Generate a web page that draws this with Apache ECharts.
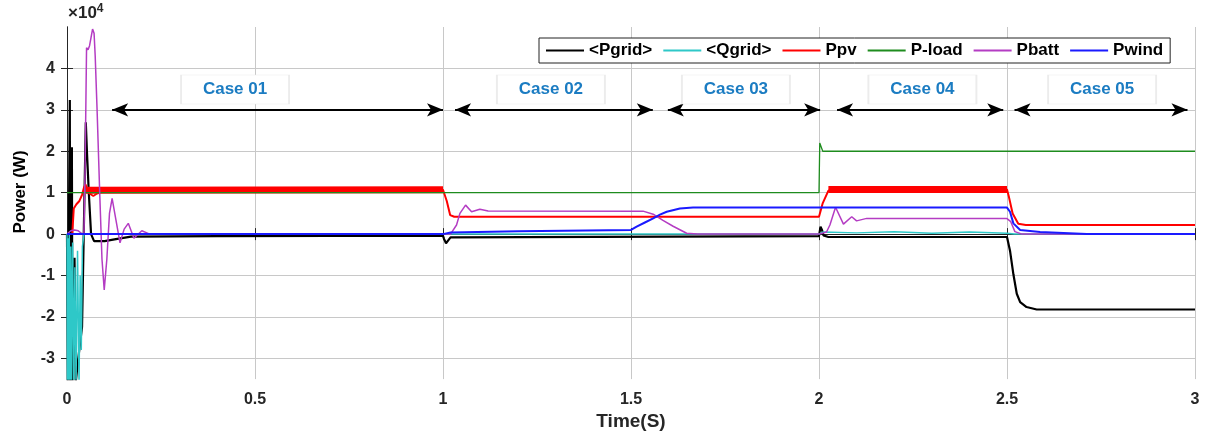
<!DOCTYPE html>
<html>
<head>
<meta charset="utf-8">
<script src="https://cdn.jsdelivr.net/npm/echarts@6/dist/echarts.min.js"></script>
<style>
html,body{margin:0;padding:0;background:#fff;}
#chart{width:1208px;height:436px;}
</style>
</head>
<body>
<div id="chart"></div>
<script>
// ---- data (time in s, power in W) ----
const seriesNames = ['<Pgrid>', '<Qgrid>', 'Ppv', 'P-load', 'Pbatt', 'Pwind'];
const yTickValues = [-30000, -20000, -10000, 0, 10000, 20000, 30000, 40000];

const pgridT = [0, 0.002, 0.0075, 0.0085, 0.013, 0.0145, 0.02, 0.023, 0.03, 0.04, 0.05, 0.053, 0.058, 0.064, 0.072, 0.1, 0.13, 0.17, 0.4, 1.0, 1.003, 1.008, 1.014, 1.02, 2.0, 2.004, 2.008, 2.012, 2.025, 2.5, 2.508, 2.517, 2.526, 2.535, 2.552, 2.579, 3.0];
const pgridV = [0, -36000, 32400, -36000, 21000, -36000, -5700, -36000, -30000, -22400, 27000, 20000, 10000, 0, -1700, -1700, -1200, -600, -500, -400, -1200, -2200, -1500, -800, -500, 1800, 1000, -300, -700, -700, -4000, -9700, -14400, -16400, -17600, -18200, -18200];

const qgridT = [0, 0.001, 0.002, 0.003, 0.004, 0.005, 0.006, 0.008, 0.010, 0.012, 0.015, 0.018, 0.021, 0.024, 0.028, 0.032, 0.035, 0.038, 0.041, 0.045, 2.0, 2.01, 2.1, 2.2, 2.3, 2.4, 2.5, 2.52, 3.0];
const qgridV = [0, -36000, -2000, -36000, -1000, -36000, 0, -36000, -3000, -36000, -2000, -36000, -8000, -36000, -4000, -36000, -10000, -28000, -3000, 0, 0, 500, 300, 600, 200, 500, 200, 0, 0];

const ppvT = [0, 0.014, 0.018, 0.025, 0.033, 0.04, 0.045, 0.049, 0.054, 0.06, 0.07, 0.08, 0.1, 0.2, 1.0, 1.01, 1.019, 1.03, 2.0, 2.01, 2.025, 2.5, 2.505, 2.515, 2.53, 2.55, 3.0];
const ppvV = [0, 0, 6200, 7200, 8000, 9500, 11200, 12000, 10800, 9800, 9200, 9800, 10400, 10600, 10700, 8000, 4600, 4200, 4200, 7500, 10500, 10800, 9000, 5000, 2500, 2200, 2200];
// oscillating (ripple) band of Ppv
const ppvBandT = [0.05, 1.0, 1.5, 2.025, 2.5];
const ppvBandV = [10600, 10700, null, 10800, 10800];

const ploadT = [0, 2.0, 2.002, 2.006, 2.01, 3.0];
const ploadV = [10000, 10000, 22000, 21800, 20000, 20000];

const pbattT = [0, 0.004, 0.01, 0.02, 0.03, 0.038, 0.045, 0.048, 0.052, 0.056, 0.06, 0.064, 0.068, 0.072, 0.075, 0.08, 0.087, 0.093, 0.099, 0.106, 0.113, 0.12, 0.13, 0.141, 0.152, 0.163, 0.178, 0.199, 0.22, 1.0, 1.02, 1.036, 1.045, 1.06, 1.076, 1.098, 1.12, 1.532, 1.559, 1.585, 1.612, 1.648, 1.677, 2.0, 2.02, 2.029, 2.044, 2.065, 2.087, 2.1, 2.127, 2.5, 2.51, 2.521, 2.54, 3.0];
const pbattV = [0, 0, 800, 1000, 800, 200, 0, 15000, 45000, 44500, 45500, 47500, 49500, 48500, 43000, 30000, 10000, -6000, -13500, -6000, 5000, 8600, 3500, -2100, 1200, 2600, -1000, 800, 0, 0, 0, 2200, 5000, 7000, 5400, 6000, 5600, 5550, 4800, 3300, 1900, 200, 0, 0, 500, 2200, 6500, 2400, 4200, 3200, 3800, 3750, 3000, 600, 0, 0];

const pwindT = [0, 1.0, 1.02, 1.2, 1.5, 1.515, 1.537, 1.559, 1.577, 1.595, 1.63, 1.665, 2.5, 2.508, 2.517, 2.535, 2.588, 2.712, 3.0];
const pwindV = [0, 0, 400, 700, 1000, 1800, 2800, 3800, 4700, 5400, 6200, 6400, 6400, 5400, 2600, 1000, 500, 0, 0];

// case annotations (time spans at y = 3e4)
const caseNames = ['Case 01', 'Case 02', 'Case 03', 'Case 04', 'Case 05'];
const caseStart = [0.12, 1.032, 1.598, 2.048, 2.52];
const caseEnd = [1.0, 1.558, 2.003, 2.49, 2.98];
const caseArrowY = 30000;
const caseLabelT = [0.447, 1.287, 1.779, 2.275, 2.753];
const caseLabelY = 34900;

// ---- chart ----
const zip = (t, v) => t.map((x, i) => [x, v[i]]);
const FONT = 'Liberation Sans, Arial, sans-serif';
const chart = echarts.init(document.getElementById('chart'));

const colors = {
  '<Pgrid>': '#000000', '<Qgrid>': '#2ec8c8', 'Ppv': '#ff0000',
  'P-load': '#1e8c1e', 'Pbatt': '#b43cc3', 'Pwind': '#1a1aff'
};
function lineSeries(name, t, v, width, extra) {
  return Object.assign({
    name, type: 'line', data: zip(t, v), symbol: 'none', showSymbol: false,
    lineStyle: { color: colors[name], width }, itemStyle: { color: colors[name] },
    connectNulls: false, animation: false, z: 3
  }, extra || {});
}

const option = {
  animation: false,
  grid: { left: 67, right: 13, top: 27, bottom: 53, show: false },
  legend: {
    data: seriesNames, selectedMode: false,
    left: 539, top: 38, orient: 'horizontal',
    icon: 'rect', itemWidth: 38, itemHeight: 2, itemGap: 11,
    padding: [4, 7], borderColor: '#222', borderWidth: 1, backgroundColor: '#fff',
    textStyle: { fontFamily: FONT, fontWeight: 'bold', fontSize: 17, color: '#000' }
  },
  xAxis: [{
    type: 'value', min: 0, max: 3, interval: 0.5, position: 'bottom',
    axisLine: { show: true, lineStyle: { color: '#262626', width: 1 } },
    axisTick: { show: true, inside: true, length: 6, lineStyle: { color: '#262626' } },
    axisLabel: { fontFamily: 'Liberation Sans Narrow, ' + FONT, fontWeight: 'bold', fontSize: 16, color: '#262626', margin: 12 },
    splitLine: { show: true, lineStyle: { color: '#c8c8c8', width: 1 } },
    name: 'Time(S)', nameLocation: 'middle', nameGap: 30,
    nameTextStyle: { fontFamily: 'Liberation Sans Narrow, ' + FONT, fontWeight: 'bold', fontSize: 19, color: '#262626' }
  }, {
    type: 'value', min: 0, max: 3, interval: 0.5, position: 'top',
    axisLine: { show: true, lineStyle: { color: '#262626', width: 1 } },
    axisTick: { show: true, inside: true, length: 6, lineStyle: { color: '#262626' } },
    axisLabel: { show: false }, splitLine: { show: false }
  }],
  yAxis: [{
    type: 'value', min: -35000, max: 50000, position: 'left',
    axisLine: { show: true, lineStyle: { color: '#262626', width: 1 } },
    axisTick: { show: true, inside: true, length: 6, customValues: yTickValues, lineStyle: { color: '#262626' } },
    axisLabel: { customValues: yTickValues, formatter: v => String(Math.round(v / 10000)), fontFamily: FONT, fontWeight: 'bold', fontSize: 16, color: '#262626', margin: 12 },
    splitLine: { show: true, lineStyle: { color: '#c8c8c8', width: 1 } }
  }, {
    type: 'value', min: -35000, max: 50000, position: 'right',
    axisLine: { show: true, lineStyle: { color: '#262626', width: 1 } },
    axisTick: { show: true, inside: true, length: 6, customValues: yTickValues, lineStyle: { color: '#262626' } },
    axisLabel: { show: false }, splitLine: { show: false }
  }],
  graphic: [
    { type: 'text', left: 68, top: 3, style: {
      text: '×10{s|4}', font: 'bold 17px ' + FONT, fill: '#262626',
      rich: { s: { fontSize: 12, fontWeight: 'bold', fontFamily: FONT, verticalAlign: 'top', padding: [0, 0, 8, 0] } } } },
    { type: 'text', x: 20, y: 192, rotation: Math.PI / 2, style: {
      text: 'Power (W)', font: 'bold 17px ' + FONT, fill: '#000', align: 'center', verticalAlign: 'middle' } }
  ],
  series: [
    lineSeries('<Pgrid>', pgridT, pgridV, 2.2),
    lineSeries('<Qgrid>', qgridT, qgridV, 1.5),
    lineSeries('Ppv', ppvT, ppvV, 2),
    lineSeries('Ppv', ppvBandT, ppvBandV, 7),
    lineSeries('P-load', ploadT, ploadV, 1.3),
    lineSeries('Pbatt', pbattT, pbattV, 1.5),
    lineSeries('Pwind', pwindT, pwindV, 2),
    {
      name: 'annotations', type: 'line', data: [], z: 5,
      markLine: {
        silent: true, animation: false, symbol: ['arrow', 'arrow'], symbolSize: [10, 16],
        lineStyle: { color: '#000', width: 2, type: 'solid' }, label: { show: false },
        data: caseNames.map((n, i) => [{ coord: [caseStart[i], caseArrowY] }, { coord: [caseEnd[i], caseArrowY] }])
      },
      markPoint: {
        silent: true, animation: false, symbol: 'rect', symbolSize: [108, 29],
        itemStyle: { color: '#fff', borderColor: '#ececec', borderWidth: 1 },
        label: { show: true, position: 'inside', formatter: '{b}', color: '#1b7cc2', fontFamily: FONT, fontWeight: 'bold', fontSize: 17 },
        data: caseNames.map((n, i) => ({ name: n, coord: [caseLabelT[i], caseLabelY] }))
      }
    }
  ]
};
chart.setOption(option);
</script>
</body>
</html>
